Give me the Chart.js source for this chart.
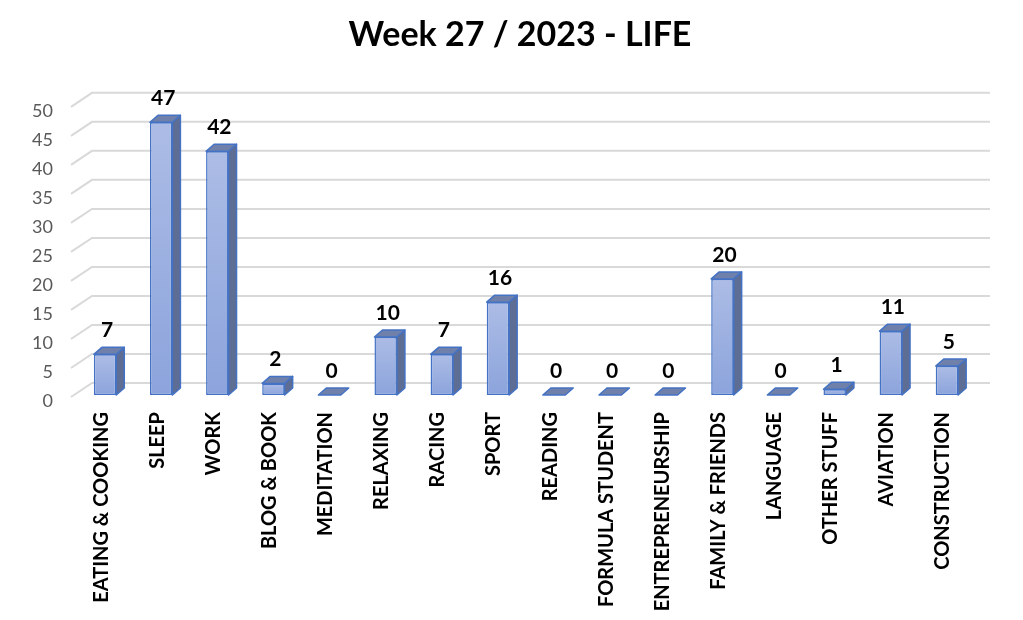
<!DOCTYPE html>
<html>
<head>
<meta charset="utf-8">
<script src="https://cdn.jsdelivr.net/npm/chart.js@4.4.0/dist/chart.umd.min.js"></script>
<style>
  html, body { margin: 0; padding: 0; background: #fff; }
  #wrap { width: 1023px; height: 620px; }
</style>
</head>
<body>
<div id="wrap"><canvas id="lifeChart" width="1023" height="620"></canvas></div>
<script>
const categories = [
  "EATING & COOKING", "SLEEP", "WORK", "BLOG & BOOK", "MEDITATION",
  "RELAXING", "RACING", "SPORT", "READING", "FORMULA STUDENT",
  "ENTREPRENEURSHIP", "FAMILY & FRIENDS", "LANGUAGE", "OTHER STUFF",
  "AVIATION", "CONSTRUCTION"
];
const hours = [7, 47, 42, 2, 0, 10, 7, 16, 0, 0, 0, 20, 0, 1, 11, 5];
const yMin = 0;
const yMax = 50;
const yStep = 5;

const FONT = "Lato, 'Open Sans', sans-serif";
const DEPTH_X = 8, DEPTH_Y = -7;       // bar depth
const WALL_X = 21, WALL_Y = -12;       // back wall offset

// back wall gridlines, drawn slanted like the excel 3d chart
const plugin_pared = {
  id: "backWall",
  beforeDatasetsDraw(chart) {
    const { ctx, chartArea, scales } = chart;
    ctx.save();
    ctx.strokeStyle = "#d9d9d9";
    ctx.lineWidth = 2;
    for (let v = yMin; v <= yMax; v += yStep) {
      const yf = scales.y.getPixelForValue(v);
      ctx.beginPath();
      ctx.moveTo(chartArea.left - 6, yf + 2);
      ctx.lineTo(chartArea.left - 6 + WALL_X, yf + WALL_Y);
      ctx.lineTo(chartArea.right + 15, yf + WALL_Y);
      ctx.stroke();
    }
    ctx.restore();
  }
};

// side + top faces of each bar and the value labels
const plugin_caras = {
  id: "barFaces",
  afterDatasetsDraw(chart) {
    const { ctx } = chart;
    const meta = chart.getDatasetMeta(0);
    ctx.save();
    ctx.lineJoin = "round";
    meta.data.forEach((bar, i) => {
      const { x, y, base, width } = bar.getProps(["x", "y", "base", "width"], true);
      const l = x - width / 2, r = x + width / 2;
      ctx.strokeStyle = "#4472c4";
      ctx.lineWidth = 1.5;
      // side face
      if (base - y > 0.5) {
        ctx.fillStyle = "#5d6d94";
        ctx.beginPath();
        ctx.moveTo(r, y);
        ctx.lineTo(r + DEPTH_X, y + DEPTH_Y);
        ctx.lineTo(r + DEPTH_X, base + DEPTH_Y);
        ctx.lineTo(r, base);
        ctx.closePath();
        ctx.fill();
        ctx.stroke();
      }
      // top face
      ctx.fillStyle = "#6f80aa";
      ctx.beginPath();
      ctx.moveTo(l, y);
      ctx.lineTo(l + DEPTH_X, y + DEPTH_Y);
      ctx.lineTo(r + DEPTH_X, y + DEPTH_Y);
      ctx.lineTo(r, y);
      ctx.closePath();
      ctx.fill();
      ctx.stroke();
      // value
      ctx.fillStyle = "#000";
      ctx.font = "bold 21px " + FONT;
      ctx.textAlign = "center";
      ctx.textBaseline = "middle";
      ctx.fillText(String(hours[i]), x + 2, y + DEPTH_Y - 17);
    });
    ctx.restore();
  }
};

const ctx = document.getElementById("lifeChart").getContext("2d");
const chart_vida = new Chart(ctx, {
  type: "bar",
  data: {
    labels: categories,
    datasets: [
      {
        label: "Hours",
        data: hours,
        backgroundColor: (c) => {
          const ys = c.chart.scales.y;
          if (!ys || c.type !== "data") return "#9aaee0";
          const top = ys.getPixelForValue(c.raw);
          const base = ys.getPixelForValue(0);
          if (!isFinite(top) || !isFinite(base) || base - top < 1) return "#9aaee0";
          const g = c.chart.ctx.createLinearGradient(0, top, 0, base);
          g.addColorStop(0, "#acbce5");
          g.addColorStop(1, "#8ca4dc");
          return g;
        },
        borderColor: "#4472c4",
        borderWidth: (c) => (c.raw > 0 ? 1.5 : 0),
        borderSkipped: false,
        categoryPercentage: 1,
        barPercentage: 0.4,
      },
    ],
  },
  options: {
    responsive: false,
    animation: false,
    layout: { padding: { left: 17, right: 0, top: 0, bottom: 0 } },
    plugins: {
      title: {
        display: true,
        text: "Week 27 / 2023 - LIFE",
        color: "#000",
        font: { family: FONT, size: 34, weight: "bold" },
        padding: { top: 15, bottom: 49 },
      },
      legend: { display: false },
      tooltip: { enabled: false },
    },
    scales: {
      x: {
        grid: { display: false, drawTicks: false },
        border: { display: false },
        afterFit: (s) => { s.height = 225; },
        ticks: {
          autoSkip: false,
          maxRotation: 90,
          minRotation: 90,
          padding: 17,
          labelOffset: -4,
          color: "#000",
          font: { family: FONT, size: 20, weight: "bold" },
        },
      },
      y: {
        min: yMin,
        max: yMax,
        grid: { display: false, drawTicks: false },
        border: { display: false },
        afterFit: (s) => { s.width = 60; },
        ticks: {
          stepSize: yStep,
          padding: 24,
          labelOffset: 6,
          color: "#595959",
          font: { family: FONT, size: 18 },
        },
      },
      // empty right-hand strip so the title centres like the original
      margen: {
        type: "linear",
        position: "right",
        grid: { display: false, drawTicks: false },
        border: { display: false },
        ticks: { display: false },
        afterFit: (s) => { s.width = 48; },
      },
    },
  },
  plugins: [plugin_pared, plugin_caras],
});
</script>
</body>
</html>
